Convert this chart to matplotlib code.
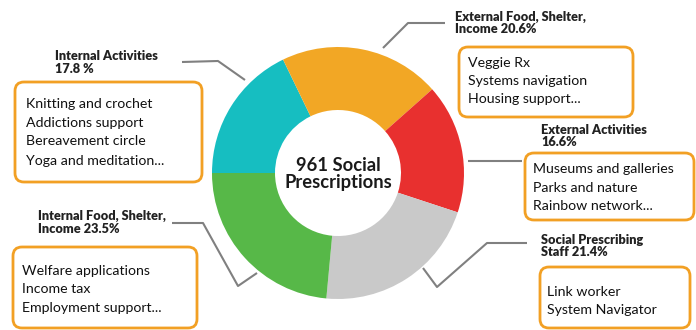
import matplotlib
matplotlib.use("Agg")
import matplotlib.pyplot as plt
from matplotlib.patches import FancyBboxPatch

# ---- data ----
categories = ["Internal Activities", "External Food, Shelter,\nIncome",
              "External Activities", "Social Prescribing\nStaff",
              "Internal Food, Shelter,\nIncome"]
shares = [17.8, 20.6, 16.6, 21.4, 23.5]
share_labels = ["17.8 %", "20.6%", "16.6%", "21.4%", "23.5%"]
colors = ["#16BEC1", "#F2A725", "#E8302F", "#C9C9C9", "#57B848"]
examples = [
    ["Knitting and crochet", "Addictions support", "Bereavement circle", "Yoga and meditation..."],
    ["Veggie Rx", "Systems navigation", "Housing support..."],
    ["Museums and galleries", "Parks and nature", "Rainbow network..."],
    ["Link worker", "System Navigator"],
    ["Welfare applications", "Income tax", "Employment support..."],
]
center_title = "961 Social\nPrescriptions"

W, H = 696, 330
fig = plt.figure(figsize=(W / 100, H / 100), dpi=100)
ax = fig.add_axes([0, 0, 1, 1])

def Y(y):
    return H - y

cx, cy, R = 338, 173, 126
ax.pie(shares, colors=colors, startangle=180, counterclock=False,
       radius=R, center=(cx, Y(cy)),
       wedgeprops=dict(width=R * 0.5, edgecolor="none"))
ax.set_xlim(0, W)
ax.set_ylim(0, H)
ax.set_aspect("equal")
ax.axis("off")

ax.text(cx, Y(cy) - 1, center_title, ha="center", va="center", fontsize=13.2,
        fontweight="bold", family="Lato", color="#1a1a1a", linespacing=1.0)

# layout: header position, header baselines, box, body baselines, leader path
layout = [
    dict(hx=55, hb=(60, 73), box=(15, 82, 202, 182), tx=26, tb=(108, 127, 145, 165),
         line=[(182, 62), (218, 61), (245, 80)]),
    dict(hx=455, hb=(21, 33), box=(459, 47, 633, 117), tx=468, tb=(67, 85, 103),
         line=[(383, 48), (408, 23), (445, 23)]),
    dict(hx=541, hb=(134, 146), box=(525, 153, 694, 220), tx=533, tb=(173, 192, 210),
         line=[(468, 161), (522, 161)]),
    dict(hx=541, hb=(244, 256), box=(540, 267, 690, 328), tx=547, tb=(296, 314),
         line=[(423, 268), (437, 287), (487, 243), (527, 243)]),
    dict(hx=38, hb=(220, 233), box=(13, 247, 197, 328), tx=22, tb=(275, 293, 312),
         line=[(172, 223), (203, 223), (238, 286), (257, 273)]),
]

for cat, lab, ex, L in zip(categories, share_labels, examples, layout):
    head = cat.split("\n")
    if len(head) == 1:
        lines = [head[0], lab]
    else:
        lines = [head[0], head[1] + " " + lab]
    for s, b in zip(lines, L["hb"]):
        ax.text(L["hx"], Y(b), s, ha="left", va="baseline", fontsize=9.2,
                fontweight="heavy", family="Lato", color="#222222")
    x0, y0, x1, y1 = L["box"]
    ax.add_patch(FancyBboxPatch((x0, Y(y1)), x1 - x0, y1 - y0,
                                boxstyle="round,pad=0,rounding_size=9",
                                facecolor="white", edgecolor="#F2A024", linewidth=2.0))
    for s, b in zip(ex, L["tb"]):
        ax.text(L["tx"], Y(b), s, ha="left", va="baseline", fontsize=10.2,
                family="Lato", color="#111111")
    xs = [p[0] for p in L["line"]]
    ys = [Y(p[1]) for p in L["line"]]
    ax.plot(xs, ys, color="#808080", lw=1.5, solid_capstyle="butt")

fig.savefig("out.png", dpi=100)
